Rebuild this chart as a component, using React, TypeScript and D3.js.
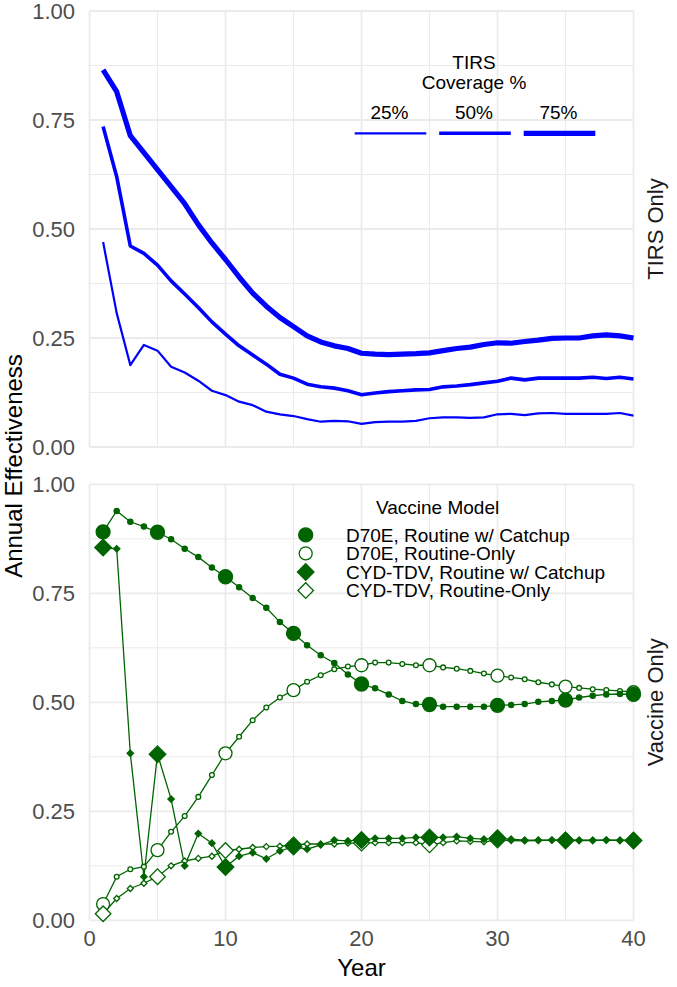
import React from 'react';
import * as d3 from 'd3';

// ---------- DATA ----------
const years = [1,2,3,4,5,6,7,8,9,10,11,12,13,14,15,16,17,18,19,20,21,22,23,24,25,26,27,28,29,30,31,32,33,34,35,36,37,38,39,40];

const tirs25 = [0.47,0.307,0.188,0.234,0.221,0.184,0.171,0.152,0.129,0.119,0.104,0.096,0.081,0.075,0.071,0.064,0.058,0.06,0.059,0.053,0.057,0.058,0.058,0.06,0.066,0.068,0.068,0.067,0.068,0.075,0.076,0.073,0.077,0.078,0.076,0.076,0.076,0.076,0.078,0.072];
const tirs50 = [0.735,0.62,0.461,0.444,0.417,0.381,0.351,0.32,0.287,0.259,0.232,0.211,0.19,0.167,0.158,0.144,0.138,0.135,0.129,0.12,0.124,0.127,0.129,0.131,0.132,0.138,0.14,0.143,0.147,0.151,0.158,0.154,0.158,0.158,0.158,0.158,0.16,0.157,0.16,0.156];
const tirs75 = [0.865,0.815,0.714,0.675,0.636,0.597,0.558,0.51,0.468,0.43,0.39,0.353,0.323,0.297,0.276,0.255,0.241,0.232,0.226,0.215,0.213,0.212,0.213,0.214,0.216,0.221,0.226,0.229,0.235,0.239,0.238,0.242,0.245,0.249,0.25,0.25,0.255,0.257,0.255,0.25];

const d70eCatchup = [0.891,0.939,0.914,0.903,0.89,0.874,0.852,0.833,0.809,0.788,0.764,0.739,0.717,0.684,0.658,0.631,0.608,0.59,0.564,0.542,0.532,0.518,0.503,0.496,0.495,0.49,0.49,0.49,0.49,0.493,0.494,0.496,0.501,0.503,0.505,0.511,0.515,0.518,0.519,0.518];
const d70eRoutine = [0.037,0.1,0.117,0.123,0.161,0.203,0.239,0.283,0.333,0.383,0.421,0.459,0.488,0.511,0.528,0.547,0.562,0.576,0.582,0.585,0.591,0.591,0.588,0.585,0.585,0.58,0.577,0.572,0.566,0.561,0.557,0.553,0.546,0.541,0.536,0.533,0.53,0.528,0.526,0.523];
const cydCatchup = [0.855,0.852,0.383,0.1,0.381,0.278,0.125,0.199,0.177,0.122,0.147,0.155,0.141,0.159,0.169,0.163,0.173,0.184,0.182,0.184,0.188,0.188,0.188,0.19,0.19,0.19,0.192,0.188,0.186,0.188,0.186,0.184,0.184,0.184,0.183,0.183,0.183,0.184,0.183,0.183];
const cydRoutine = [0.015,0.05,0.073,0.085,0.1,0.125,0.136,0.142,0.147,0.16,0.163,0.167,0.169,0.17,0.173,0.175,0.175,0.175,0.177,0.177,0.178,0.178,0.178,0.178,0.173,0.178,0.182,0.181,0.18,0.184,0.183,0.182,0.183,0.184,0.184,0.184,0.184,0.184,0.184,0.183];

const coverageLabels = ['25%', '50%', '75%'];
const vaccineLabels = ['D70E, Routine w/ Catchup', 'D70E, Routine-Only', 'CYD-TDV, Routine w/ Catchup', 'CYD-TDV, Routine-Only'];
const yTicks = [0, 0.25, 0.5, 0.75, 1];
const yTickLabels = ['0.00', '0.25', '0.50', '0.75', '1.00'];
const yMinor = [0.125, 0.375, 0.625, 0.875];
const xTicks = [0, 10, 20, 30, 40];
const xMinor = [5, 15, 25, 35];

// ---------- STYLE ----------
const W = 677, H = 987;
const FONT = '"Liberation Sans", Arial, Helvetica, sans-serif';
const BLUE = '#0000ff';
const GREEN = '#006400';
const GRID = '#ebebeb';
const tirsWidths = [2.2, 3.6, 5.2];

const x = d3.scaleLinear().domain([0, 40]).range([89.5, 633.5]);
const yTop = d3.scaleLinear().domain([0, 1]).range([447, 11]);
const yBot = d3.scaleLinear().domain([0, 1]).range([920.3, 484.3]);

const diamondPath = (s: number) => `M0,${-s}L${s},0L0,${s}L${-s},0Z`;
const isBig = (yr: number) => yr === 1 || yr % 5 === 0;

function Grid({ y }: { y: d3.ScaleLinear<number, number> }) {
  const [x0, x1] = x.range();
  const [yb, yt] = y.range();
  return (
    <g>
      {yMinor.map((v) => (
        <line key={'ym' + v} x1={x0} x2={x1} y1={y(v)} y2={y(v)} stroke={GRID} strokeWidth={1} />
      ))}
      {xMinor.map((v) => (
        <line key={'xm' + v} x1={x(v)} x2={x(v)} y1={yb} y2={yt} stroke={GRID} strokeWidth={1} />
      ))}
      {yTicks.map((v) => (
        <line key={'yM' + v} x1={x0} x2={x1} y1={y(v)} y2={y(v)} stroke={GRID} strokeWidth={1.8} />
      ))}
      {xTicks.map((v) => (
        <line key={'xM' + v} x1={x(v)} x2={x(v)} y1={yb} y2={yt} stroke={GRID} strokeWidth={1.8} />
      ))}
      {yTicks.map((v, i) => (
        <text key={'yl' + v} x={75} y={y(v) + 7.5} textAnchor="end" fontSize={22} fill="#4d4d4d" fontFamily={FONT}>
          {yTickLabels[i]}
        </text>
      ))}
    </g>
  );
}

type Series = { values: number[]; shape: 'circle' | 'diamond'; filled: boolean };
const vaccineSeries: Series[] = [
  { values: d70eCatchup, shape: 'circle', filled: true },
  { values: d70eRoutine, shape: 'circle', filled: false },
  { values: cydCatchup, shape: 'diamond', filled: true },
  { values: cydRoutine, shape: 'diamond', filled: false },
];
// drawing order: open markers below filled markers
const drawOrder = [1, 3, 0, 2];

function Marker({ shape, filled, big, cx, cy }: { shape: string; filled: boolean; big: boolean; cx: number; cy: number }) {
  const fill = filled ? GREEN : '#ffffff';
  if (shape === 'circle') {
    const r = big ? (filled ? 7 : 6.5) : (filled ? 2.6 : 2.4);
    return <circle cx={cx} cy={cy} r={r} fill={fill} stroke={GREEN} strokeWidth={1.3} />;
  }
  const s = big ? (filled ? 8.3 : 7.8) : (filled ? 3.2 : 3.0);
  return <path d={diamondPath(s)} transform={`translate(${cx},${cy})`} fill={fill} stroke={GREEN} strokeWidth={1.3} />;
}

export default function App() {
  const lineTop = (vals: number[]) =>
    d3.line<number>().x((_, i) => x(years[i])).y((v) => yTop(v))(vals) as string;
  const lineBot = (vals: number[]) =>
    d3.line<number>().x((_, i) => x(years[i])).y((v) => yBot(v))(vals) as string;
  const tirsSeries = [tirs25, tirs50, tirs75];

  const legX = [390.5, 475, 559.5];
  return (
    <svg width={W} height={H} style={{ position: 'absolute', left: 0, top: 0, background: '#fff' }} fontFamily={FONT}>
      <rect x={0} y={0} width={W} height={H} fill="#ffffff" />
      <Grid y={yTop} />
      <Grid y={yBot} />

      {/* TIRS lines */}
      {tirsSeries.map((s, i) => (
        <path key={'t' + i} d={lineTop(s)} fill="none" stroke={BLUE} strokeWidth={tirsWidths[i]} strokeLinejoin="round" strokeLinecap="butt" />
      ))}

      {/* TIRS legend */}
      <text x={474} y={68.5} textAnchor="middle" fontSize={19} fill="#000">TIRS</text>
      <text x={474} y={88.5} textAnchor="middle" fontSize={19} fill="#000">Coverage %</text>
      {coverageLabels.map((lab, i) => (
        <g key={'cl' + i}>
          <text x={legX[i] - 1} y={119} textAnchor="middle" fontSize={19} fill="#000">{lab}</text>
          <line x1={legX[i] - 35.8} x2={legX[i] + 35.8} y1={133.3} y2={133.3} stroke={BLUE} strokeWidth={tirsWidths[i]} />
        </g>
      ))}

      {/* Vaccine lines */}
      {drawOrder.map((i) => (
        <path key={'v' + i} d={lineBot(vaccineSeries[i].values)} fill="none" stroke={GREEN} strokeWidth={1.3} />
      ))}
      {drawOrder.map((i) => {
        const s = vaccineSeries[i];
        return (
          <g key={'m' + i}>
            {s.values.map((v, j) => (
              <Marker key={j} shape={s.shape} filled={s.filled} big={isBig(years[j])} cx={x(years[j])} cy={yBot(v)} />
            ))}
          </g>
        );
      })}

      {/* Vaccine legend */}
      <text x={376} y={514} fontSize={19} fill="#000">Vaccine Model</text>
      {vaccineSeries.map((s, i) => {
        const by = 541.7 + i * 18.55;
        return (
          <g key={'vl' + i}>
            <Marker shape={s.shape} filled={s.filled} big={true} cx={305.7} cy={by - 6.8} />
            <text x={346} y={by} fontSize={19} fill="#000">{vaccineLabels[i]}</text>
          </g>
        );
      })}

      {/* X axis */}
      {xTicks.map((v) => (
        <text key={'xt' + v} x={x(v)} y={946} textAnchor="middle" fontSize={22} fill="#4d4d4d">{v}</text>
      ))}
      <text x={361.5} y={976} textAnchor="middle" fontSize={24} fill="#000">Year</text>

      {/* Y axis title */}
      <text transform={`translate(22,466) rotate(-90)`} textAnchor="middle" fontSize={24} fill="#000">Annual Effectiveness</text>

      {/* Strip labels */}
      <text transform={`translate(663,229) rotate(-90)`} textAnchor="middle" fontSize={22} fill="#1a1a1a">TIRS Only</text>
      <text transform={`translate(663,702.3) rotate(-90)`} textAnchor="middle" fontSize={22} fill="#1a1a1a">Vaccine Only</text>
    </svg>
  );
}
